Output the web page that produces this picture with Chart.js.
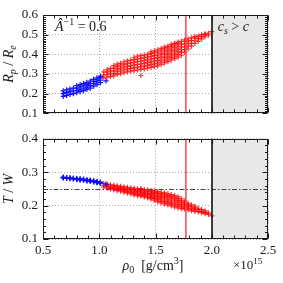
<!DOCTYPE html>
<html><head><meta charset="utf-8">
<script src="https://cdn.jsdelivr.net/npm/chart.js@4"></script>
<style>
html,body{margin:0;padding:0;background:#fff;width:283px;height:283px;overflow:hidden}
canvas{position:absolute;left:0}
</style></head><body>
<canvas id="cTop" width="283" height="126" style="top:0"></canvas>
<canvas id="cBot" width="283" height="157" style="top:126px"></canvas>
<script>
// ---- data: columns of models (central density, Rp/Re, T/W) ----
const rhoBlue = [0.68,0.71,0.74,0.77,0.80,0.83,0.86,0.89,0.92,0.95,0.98,1.01,1.06];
const rpBlue = [
 [0.186,0.200,0.214],[0.191,0.205,0.219],[0.196,0.210,0.224],[0.200,0.214,0.228],
 [0.204,0.216,0.228,0.240],[0.210,0.222,0.234,0.246],[0.215,0.227,0.239,0.251],
 [0.221,0.233,0.245,0.257],[0.228,0.240,0.252,0.264],[0.238,0.250,0.262,0.272],
 [0.246,0.258,0.270,0.280],[0.256,0.268,0.280,0.288],[0.265]
];
const twBlue = [
 [0.285,0.284,0.283],[0.284,0.283,0.282],[0.283,0.282,0.281],[0.282,0.281,0.280],
 [0.281,0.280,0.279,0.278],[0.280,0.279,0.278,0.277],[0.279,0.278,0.277,0.276],
 [0.277,0.276,0.275,0.274],[0.276,0.275,0.274,0.273],[0.274,0.273,0.272,0.271],
 [0.272,0.271,0.270,0.269],[0.270,0.269,0.268,0.267],[0.264]
];
const rhoRed = [1.04,1.07,1.10,1.13,1.16,1.19,1.22,1.25,1.28,1.31,1.34,1.37,1.40,1.43,1.46,1.49,1.52,
 1.55,1.58,1.61,1.64,1.67,1.70,1.73,1.76,1.79,1.82,1.85,1.88,1.91,1.94,1.97,2.00];
const rpRed = [
 [0.280,0.295,0.310],[0.283,0.296,0.309,0.322],[0.286,0.300,0.314,0.328],
 [0.290,0.303,0.316,0.329,0.342],[0.298,0.311,0.324,0.337,0.350],[0.302,0.315,0.328,0.341,0.354],
 [0.306,0.320,0.334,0.348,0.362],[0.310,0.324,0.338,0.352,0.366],[0.314,0.328,0.342,0.356,0.370],
 [0.317,0.331,0.345,0.359,0.373,0.385],[0.320,0.334,0.348,0.362,0.376,0.390],
 [0.292,0.323,0.337,0.351,0.365,0.379,0.393],[0.326,0.340,0.354,0.368,0.382,0.396],
 [0.330,0.344,0.358,0.372,0.386,0.400],[0.333,0.347,0.361,0.375,0.389,0.403,0.412],
 [0.337,0.351,0.365,0.379,0.393,0.407,0.418],[0.341,0.355,0.369,0.383,0.397,0.411,0.423],
 [0.348,0.362,0.376,0.390,0.404,0.418,0.430],[0.356,0.370,0.384,0.398,0.412,0.426,0.436],
 [0.363,0.377,0.391,0.405,0.419,0.433,0.442],[0.370,0.384,0.398,0.412,0.426,0.440,0.450],
 [0.378,0.392,0.406,0.420,0.434,0.448,0.456],[0.386,0.400,0.414,0.428,0.442,0.456,0.462],
 [0.396,0.410,0.424,0.438,0.452,0.466],[0.410,0.424,0.438,0.452,0.466,0.474],
 [0.427,0.441,0.455,0.469,0.479],[0.442,0.456,0.470,0.484],[0.455,0.469,0.483,0.490],
 [0.466,0.480,0.494],[0.478,0.490,0.499],[0.488,0.500,0.504],[0.498,0.507],[0.515]
];
const twRed = [
 [0.266,0.261,0.256],[0.264,0.260,0.256,0.252],[0.262,0.258,0.254,0.250],
 [0.261,0.258,0.254,0.251,0.247],[0.259,0.256,0.252,0.249,0.245],[0.258,0.254,0.251,0.247,0.243],
 [0.256,0.252,0.248,0.244,0.240],[0.255,0.251,0.247,0.242,0.238],[0.253,0.249,0.244,0.240,0.235],
 [0.252,0.248,0.244,0.240,0.236,0.232],[0.250,0.246,0.242,0.238,0.234,0.230],
 [0.251,0.249,0.245,0.241,0.236,0.232,0.228],[0.248,0.244,0.239,0.235,0.230,0.226],
 [0.247,0.242,0.237,0.233,0.228,0.223],[0.245,0.241,0.237,0.233,0.228,0.224,0.220],
 [0.244,0.239,0.235,0.230,0.225,0.221,0.216],[0.242,0.237,0.232,0.227,0.222,0.217,0.212],
 [0.240,0.235,0.229,0.224,0.219,0.213,0.208],[0.238,0.233,0.227,0.222,0.216,0.211,0.205],
 [0.236,0.230,0.225,0.219,0.213,0.208,0.202],[0.233,0.227,0.222,0.216,0.210,0.205,0.199],
 [0.230,0.224,0.219,0.213,0.207,0.202,0.196],[0.226,0.221,0.215,0.210,0.204,0.199,0.193],
 [0.220,0.214,0.208,0.203,0.197,0.191],[0.214,0.209,0.204,0.199,0.194,0.189],
 [0.207,0.202,0.197,0.192,0.187],[0.202,0.196,0.191,0.185],[0.198,0.193,0.188,0.183],
 [0.192,0.187,0.181],[0.188,0.183,0.179],[0.184,0.180,0.176],[0.178,0.174],[0.169]
];
const xTicks = [0.5,1.0,1.5,2.0,2.5];
const rpTicks = [0.1,0.2,0.3,0.4,0.5,0.6];
const twTicks = [0.1,0.2,0.3,0.4];
const rhoLimit = 2.0;      // c_s > c beyond this
const rhoMarked = 1.77;    // red vertical marker
const twRef = 0.25;        // dash-dot reference line
const invA = '0.6';

function pts(rho, vals){
  const out=[];
  rho.forEach((r,i)=>vals[i].forEach(v=>out.push({x:r,y:v})));
  return out;
}

const SERIF = "'Liberation Serif','DejaVu Serif',serif";
const INK = '#1a1a1a';

function rich(ctx, parts, x, y, align, size){
  const fnt = p => {
    const it = p[1].indexOf('i')===0;
    const small = p[1].indexOf('sub')>=0 || p[1].indexOf('sup')>=0;
    return (it?'italic ':'') + (small? Math.round(size*0.7):size) + 'px ' + SERIF;
  };
  let w=0;
  parts.forEach(p=>{ctx.font=fnt(p); w+=ctx.measureText(p[0]).width;});
  let cx = align==='center'? x-w/2 : (align==='right'? x-w : x);
  ctx.textAlign='left'; ctx.textBaseline='alphabetic'; ctx.fillStyle=INK;
  parts.forEach(p=>{
    ctx.font=fnt(p);
    let dy=0;
    if(p[1].indexOf('sub')>=0) dy=size*0.22;
    if(p[1].indexOf('sup')>=0) dy=-size*0.4;
    ctx.fillText(p[0], cx, y+dy);
    cx += ctx.measureText(p[0]).width;
  });
}

function frameAndTicks(chart, yMinorStep){
  const {ctx, chartArea:a, scales:{x,y}} = chart;
  ctx.save();
  ctx.strokeStyle=INK; ctx.lineWidth=1;
  const L=Math.round(a.left)+0.5, R=Math.round(a.right)-0.5, T=Math.round(a.top)+0.5, B=Math.round(a.bottom)-0.5;
  ctx.strokeRect(L,T,R-L,B-T);
  ctx.beginPath();
  for(let k=0;k<=20;k++){
    const v=0.5+k*0.1; const px=Math.round(x.getPixelForValue(v))+0.5;
    const len = (k%5===0)?5:3;
    ctx.moveTo(px,B); ctx.lineTo(px,B-len);
    ctx.moveTo(px,T); ctx.lineTo(px,T+len);
  }
  const n = Math.round((y.max-y.min)/yMinorStep);
  for(let k=0;k<=n;k++){
    const v=y.min+k*yMinorStep; const py=Math.round(y.getPixelForValue(v))+0.5;
    const major = Math.abs(v*10-Math.round(v*10))<1e-6;
    const len = major?5:2.5;
    ctx.moveTo(L,py); ctx.lineTo(L+len,py);
    ctx.moveTo(R,py); ctx.lineTo(R-len,py);
  }
  ctx.stroke();
  ctx.restore();
}

function shade(chart){
  const {ctx, chartArea:a, scales:{x}} = chart;
  const x0=x.getPixelForValue(rhoLimit);
  ctx.save(); ctx.fillStyle='#e8e8e8';
  ctx.fillRect(x0,a.top,a.right-x0,a.bottom-a.top);
  ctx.restore();
}
function vlines(chart){
  const {ctx, chartArea:a, scales:{x}} = chart;
  ctx.save();
  ctx.strokeStyle='rgba(245,70,70,0.85)'; ctx.lineWidth=1.8;
  let px=x.getPixelForValue(rhoMarked);
  ctx.beginPath(); ctx.moveTo(px,a.top); ctx.lineTo(px,a.bottom); ctx.stroke();
  ctx.strokeStyle='#2a2a2a'; ctx.lineWidth=1.8;
  px=Math.round(x.getPixelForValue(rhoLimit));
  ctx.beginPath(); ctx.moveTo(px,a.top); ctx.lineTo(px,a.bottom); ctx.stroke();
  ctx.restore();
}

function baseScales(yMin,yMax,yTicks,xH){
  return {
    x:{type:'linear',min:0.5,max:2.5,
       afterBuildTicks(s){s.ticks=xTicks.map(v=>({value:v}));},
       ticks:{display:xH>20,font:{family:SERIF,size:13},color:INK,padding:4,callback:v=>v.toFixed(1),maxRotation:0,autoSkip:false},
       grid:{color:'#ababab',drawTicks:false,lineWidth:1},
       border:{display:false,dash:[1,2]},
       afterFit(s){s.height=xH;}},
    y:{type:'linear',min:yMin,max:yMax,
       afterBuildTicks(s){s.ticks=yTicks.map(v=>({value:v}));},
       ticks:{font:{family:SERIF,size:13},color:INK,padding:5,callback:v=>v.toFixed(1),autoSkip:false},
       grid:{color:'#ababab',drawTicks:false,lineWidth:1},
       border:{display:false,dash:[1,2]},
       afterFit(s){s.width=43;}}
  };
}
const ptOpts = {pointStyle:'cross',pointRadius:2.6,borderWidth:1.2,showLine:false};

new Chart(document.getElementById('cTop'),{
  type:'scatter',
  data:{datasets:[
    Object.assign({label:'blue',data:pts(rhoBlue,rpBlue),borderColor:'#1010ff',backgroundColor:'#1010ff'},ptOpts),
    Object.assign({label:'red',data:pts(rhoRed,rpRed),borderColor:'rgba(255,0,0,0.8)',backgroundColor:'rgba(255,0,0,0.8)'},ptOpts)
  ]},
  options:{responsive:false,animation:false,devicePixelRatio:1,
    layout:{padding:{top:15,right:15,left:0,bottom:0}},
    plugins:{legend:{display:false},tooltip:{enabled:false}},
    scales:baseScales(0.1,0.6,rpTicks,8)},
  plugins:[{id:'deco',
    beforeDatasetsDraw(c){shade(c);},
    afterDatasetsDraw(c){
      vlines(c); frameAndTicks(c,0.01);
      const ctx=c.ctx, a=c.chartArea;
      ctx.save();
      rich(ctx,[['Â','i'],['−1','sup'],[' = '+invA,'']],a.left+12,a.top+16,'left',14);
      const xs=c.scales.x.getPixelForValue(rhoLimit);
      rich(ctx,[['c','i'],['s','isub'],[' > ',''],['c','i']],xs+6,a.top+16,'left',14);
      ctx.translate(13,(a.top+a.bottom)/2); ctx.rotate(-Math.PI/2);
      rich(ctx,[['R','i'],['p','isub'],[' / ',''],['R','i'],['e','isub']],0,0,'center',14);
      ctx.restore();
    }}]
});

new Chart(document.getElementById('cBot'),{
  type:'scatter',
  data:{datasets:[
    Object.assign({label:'blue',data:pts(rhoBlue,twBlue),borderColor:'#1010ff',backgroundColor:'#1010ff'},ptOpts),
    Object.assign({label:'red',data:pts(rhoRed,twRed),borderColor:'rgba(255,0,0,0.8)',backgroundColor:'rgba(255,0,0,0.8)'},ptOpts)
  ]},
  options:{responsive:false,animation:false,devicePixelRatio:1,
    layout:{padding:{top:11,right:15,left:0,bottom:0}},
    plugins:{legend:{display:false},tooltip:{enabled:false}},
    scales:baseScales(0.1,0.4,twTicks,44)},
  plugins:[{id:'deco',
    beforeDatasetsDraw(c){shade(c);},
    afterDatasetsDraw(c){
      const ctx=c.ctx, a=c.chartArea, y=c.scales.y;
      ctx.save();
      ctx.strokeStyle='#444'; ctx.lineWidth=1.1; ctx.setLineDash([5,2,1.5,2]);
      const py=Math.round(y.getPixelForValue(twRef))+0.5;
      ctx.beginPath(); ctx.moveTo(a.left,py); ctx.lineTo(a.right,py); ctx.stroke();
      ctx.restore();
      vlines(c); frameAndTicks(c,0.02);
      ctx.save();
      rich(ctx,[['ρ','i'],['0','sub'],['  [g/cm',''],['3','sup'],[']','']],153,a.bottom+31,'center',14);
      rich(ctx,[['×10',''],['15','sup']],233,a.bottom+30,'left',13);
      ctx.translate(13,(a.top+a.bottom)/2); ctx.rotate(-Math.PI/2);
      rich(ctx,[['T','i'],[' / ',''],['W','i']],0,0,'center',14);
      ctx.restore();
    }}]
});
</script>
</body></html>
